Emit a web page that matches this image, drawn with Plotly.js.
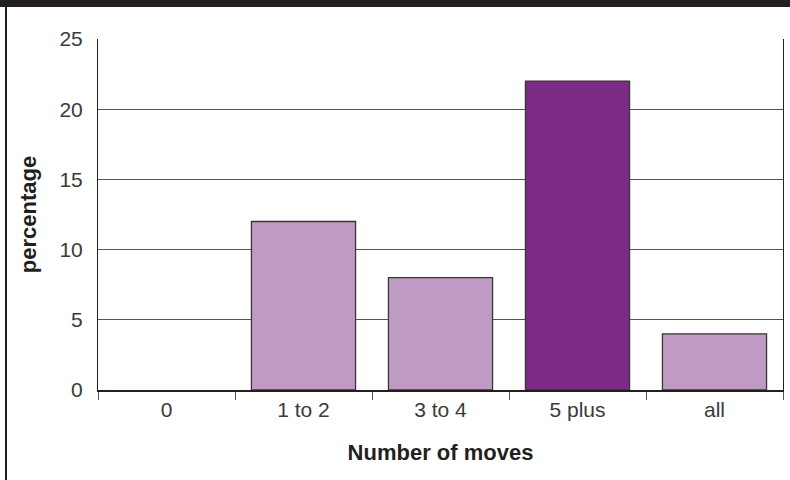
<!DOCTYPE html>
<html>
<head>
<meta charset="utf-8">
<script src="https://cdn.plot.ly/plotly-3.0.1.min.js"></script>
<style>
  html, body { margin: 0; padding: 0; background: #fff; }
  #wrap { position: relative; width: 790px; height: 480px; overflow: hidden; }
  #chart { position: absolute; left: 0; top: 0; width: 790px; height: 480px; }
  #topbar { position: absolute; left: 0; top: 0; width: 790px; height: 7px; background: #231f20; z-index: 5; }
  #leftrule { position: absolute; left: 5px; top: 0; width: 2px; height: 480px; background: #231f20; z-index: 5; }
</style>
</head>
<body>
<div id="wrap">
  <div id="chart"></div>
  <div id="topbar"></div>
  <div id="leftrule"></div>
</div>
<script>
const categories = ["0", "1 to 2", "3 to 4", "5 plus", "all"];
const percentages = [0, 12, 8, 22, 4];
const barColors = ["#bf9bc4", "#bf9bc4", "#bf9bc4", "#7b2b83", "#bf9bc4"];
const yTicks = [0, 5, 10, 15, 20, 25];

const trace = {
  type: "bar",
  x: categories,
  y: percentages,
  width: 0.76,
  marker: {
    color: barColors,
    line: { color: "#3a3536", width: percentages.map(v => v > 0 ? 1.3 : 0) }
  },
  hoverinfo: "x+y"
};

const layout = {
  width: 790,
  height: 480,
  margin: { l: 98, r: 7, t: 39, b: 90 },
  paper_bgcolor: "#ffffff",
  plot_bgcolor: "#ffffff",
  showlegend: false,
  font: { family: "Liberation Sans, Arial, sans-serif", color: "#333" },
  xaxis: {
    type: "category",
    tickson: "boundaries",
    ticks: "outside",
    ticklen: 8,
    tickwidth: 1,
    tickcolor: "#555",
    showline: true,
    linecolor: "#231f20",
    linewidth: 2,
    showgrid: false,
    tickfont: { size: 21, color: "#3a3a3a" },
    title: { text: "Number of moves", font: { size: 22, color: "#231f20", family: "Liberation Sans, Arial, sans-serif", weight: "bold" }, standoff: 24 },
    fixedrange: true
  },
  yaxis: {
    range: [0, 25],
    tickvals: yTicks,
    ticktext: yTicks.map(String),
    ticks: "",
    showline: true,
    mirror: true,
    linecolor: "#231f20",
    linewidth: 1,
    showgrid: true,
    gridcolor: "#555",
    gridwidth: 1,
    zeroline: false,
    ticklabelstandoff: 10,
    tickfont: { size: 21, color: "#3a3a3a" },
    title: { text: "percentage", font: { size: 22, color: "#231f20", family: "Liberation Sans, Arial, sans-serif", weight: "bold" }, standoff: 16 },
    fixedrange: true
  },
  bargap: 0.24
};

Plotly.newPlot("chart", [trace], layout, { displayModeBar: false, staticPlot: true });
</script>
</body>
</html>
